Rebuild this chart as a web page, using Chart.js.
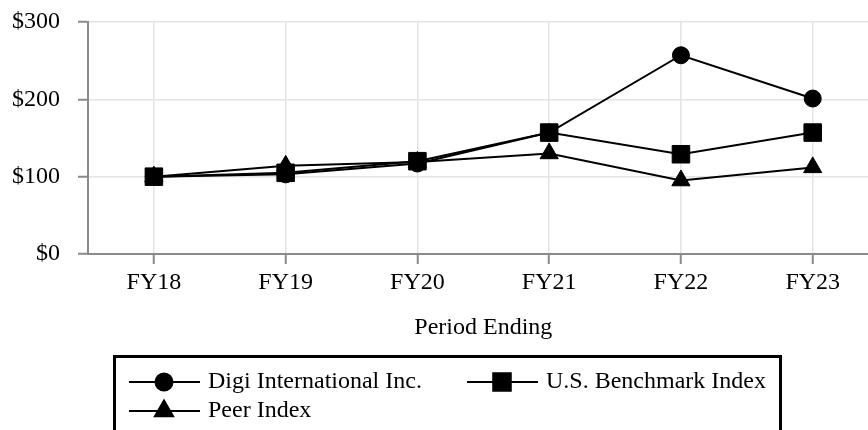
<!DOCTYPE html>
<html>
<head>
<meta charset="utf-8">
<script src="https://cdn.jsdelivr.net/npm/chart.js@4.4.0/dist/chart.umd.min.js"></script>
<style>
  html, body { margin: 0; padding: 0; background: #fff; overflow: hidden; }
  #clip { width: 868px; height: 430px; overflow: hidden; position: relative; }
  /* wider than the window: the plot runs past the right edge, as in the source */
  #inner { width: 892px; height: 430px; position: absolute; left: 0; top: 0; }
</style>
</head>
<body>
<div id="clip"><div id="inner"><canvas id="perf"></canvas></div></div>
<script>
// ---- data ----
const periods = ['FY18', 'FY19', 'FY20', 'FY21', 'FY22', 'FY23'];
const digiValues = [100, 103, 117, 157, 257, 201];
const benchmarkValues = [100, 105, 120, 157, 129, 157];
const peerValues = [100, 114, 119, 130, 95, 112];
const yTickLabels = ['$0', '$100', '$200', '$300'];

const serif = '"Liberation Serif", "Times New Roman", Times, serif';
const font24 = { family: serif, size: 24, lineHeight: 1.2 };
const axisGray = '#8a8a8a';
const gridGray = '#e4e4e4';

function series(label, data, style, radius) {
  return {
    label: label,
    data: data,
    borderColor: '#000',
    borderWidth: 2,
    backgroundColor: '#000',
    pointStyle: style,
    pointRadius: radius,
    pointHoverRadius: radius,
    pointBackgroundColor: '#000',
    pointBorderColor: '#000',
    pointBorderWidth: 1,
    tension: 0,
    fill: false
  };
}

/* legend box drawn on the canvas, below the axis title */
const boxLegend = {
  id: 'boxLegend',
  afterDraw(chart) {
    const ctx = chart.ctx;
    ctx.save();
    ctx.strokeStyle = '#000';
    ctx.lineWidth = 3;
    ctx.strokeRect(114.5, 356.5, 666, 120);

    const slots = [
      { x: 129, y: 382 },
      { x: 467, y: 382 },
      { x: 129, y: 411 }
    ];
    chart.data.datasets.forEach((ds, i) => {
      const s = slots[i];
      ctx.strokeStyle = '#000';
      ctx.lineWidth = 2;
      ctx.beginPath();
      ctx.moveTo(s.x, s.y);
      ctx.lineTo(s.x + 71, s.y);
      ctx.stroke();
      Chart.helpers.drawPoint(ctx, {
        pointStyle: ds.pointStyle, radius: ds.pointRadius, borderWidth: 1
      }, s.x + 35, s.y);
      ctx.fillStyle = '#000';
      ctx.fill();

      ctx.font = '24px ' + serif;
      ctx.textAlign = 'left';
      ctx.textBaseline = 'alphabetic';
      ctx.fillText(ds.label, s.x + 79, s.y + 6);
    });
    ctx.restore();
  }
};

new Chart(document.getElementById('perf'), {
  type: 'line',
  data: {
    labels: periods,
    datasets: [
      series('Digi International Inc.', digiValues, 'circle', 8.5),
      series('U.S. Benchmark Index', benchmarkValues, 'rect', 12.4),
      series('Peer Index', peerValues, 'triangle', 10.5)
    ]
  },
  options: {
    responsive: true,
    maintainAspectRatio: false,
    animation: false,
    layout: { padding: { top: 22, right: 0, bottom: 88, left: 0 } },
    plugins: {
      legend: { display: false },
      tooltip: { enabled: false }
    },
    scales: {
      x: {
        offset: true,
        grid: { color: gridGray, lineWidth: 1.5, tickColor: axisGray, tickLength: 10, tickWidth: 2 },
        border: { color: axisGray, width: 2 },
        ticks: { color: '#000', font: font24, padding: 4 },
        title: {
          display: true, text: 'Period Ending', color: '#000', font: font24,
          padding: { top: 0, bottom: 0 }
        },
        afterFit: (scale) => {
          scale.height = 88;
          scale.paddingLeft = 0;
          scale.paddingRight = 0;
        }
      },
      y: {
        min: 0,
        max: 300,
        grid: { color: gridGray, lineWidth: 1.5, tickColor: axisGray, tickLength: 10, tickWidth: 2 },
        border: { color: axisGray, width: 2 },
        ticks: {
          stepSize: 100, color: '#000', font: font24, padding: 18,
          callback: (v, i) => yTickLabels[i]
        },
        afterFit: (scale) => {
          scale.width = 88;
          scale.paddingTop = 0;
          scale.paddingBottom = 0;
        }
      }
    }
  },
  plugins: [boxLegend]
});
</script>
</body>
</html>
